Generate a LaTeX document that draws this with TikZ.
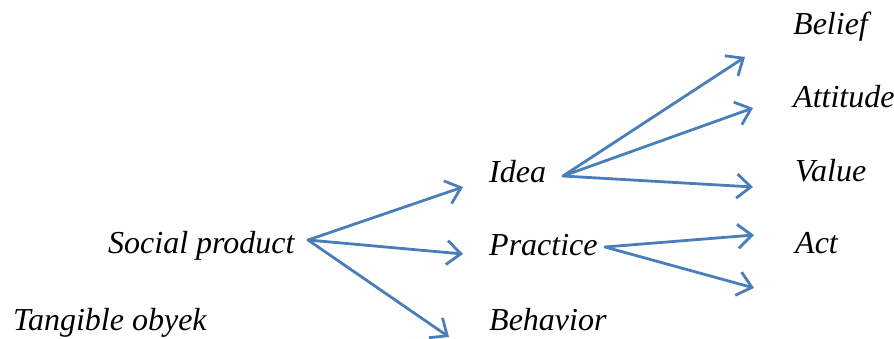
\documentclass[tikz,border=0pt]{standalone}
\usepackage{fontspec}
\setmainfont{Liberation Serif}
\usetikzlibrary{arrows.meta}
\definecolor{arrblue}{HTML}{4A7EBB}
\tikzset{
  lbl/.style={anchor=base west, inner sep=0pt, font=\fontsize{32}{38}\selectfont\itshape},
  arr/.style={draw=arrblue, line width=2.8pt, line cap=round,
    -{Straight Barb[length=14pt,width=24pt,line width=2.8pt]}}
}
\begin{document}
\begin{tikzpicture}[x=1pt,y=-1pt]
\useasboundingbox (0,0) rectangle (894,339);
\node[lbl] (belief) at (793,35) {Belief};
\node[lbl] (attitude) at (793,108) {Attitude};
\node[lbl] (value) at (795,182) {Value};
\node[lbl] (act) at (795,254) {Act};
\node[lbl] (idea) at (489,183) {Idea};
\node[lbl] (practice) at (489,255) {Practice};
\node[lbl] (behavior) at (489,330) {Behavior};
\node[lbl] (social) at (108,254) {Social product};
\node[lbl] (tangible) at (13,330) {Tangible obyek};
% arrow origins and tips
\coordinate (so) at (308,240);
\coordinate (io) at (563,176);
\coordinate (po) at (605,247);
\coordinate (t1) at (463,187);
\coordinate (t2) at (463,254);
\coordinate (t3) at (449,337);
\coordinate (t4) at (745,57);
\coordinate (t5) at (753,108);
\coordinate (t6) at (753,187);
\coordinate (t7) at (754,235);
\coordinate (t8) at (754,288);
\draw[arr] (so) -- (t1);
\draw[arr] (so) -- (t2);
\draw[arr] (so) -- (t3);
\draw[arr] (io) -- (t4);
\draw[arr] (io) -- (t5);
\draw[arr] (io) -- (t6);
\draw[arr] (po) -- (t7);
\draw[arr] (po) -- (t8);
\end{tikzpicture}
\end{document}
